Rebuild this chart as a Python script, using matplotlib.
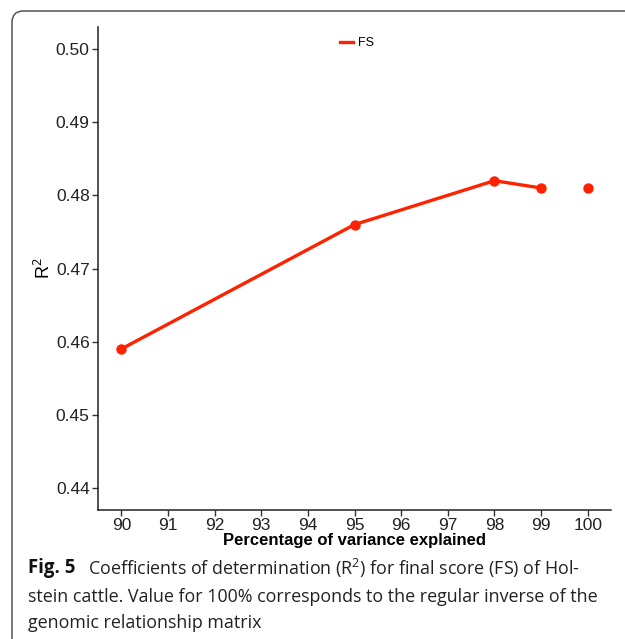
import matplotlib
matplotlib.use("Agg")
import matplotlib.pyplot as plt
from matplotlib.lines import Line2D
from matplotlib.patches import FancyBboxPatch

# Data.
pct_line = [90, 95, 98, 99]
r2_line = [0.459, 0.476, 0.482, 0.481]
pct_single = [100]
r2_single = [0.481]
xticks = [90, 91, 92, 93, 94, 95, 96, 97, 98, 99, 100]
yticks = [0.44, 0.45, 0.46, 0.47, 0.48, 0.49, 0.50]

red = "#ff2200"
plt.rcParams["font.family"] = ["Liberation Sans", "DejaVu Sans"]
plt.rcParams["mathtext.fontset"] = "custom"
plt.rcParams["mathtext.rm"] = "Open Sans"

fig = plt.figure(figsize=(6.25, 6.39), dpi=100)

# Rounded frame around the figure panel (runs off the right/bottom edge).
frame = FancyBboxPatch((12 / 625, -0.2), 1.2, 1 - 11 / 639 + 0.2,
                       boxstyle="round,pad=0,rounding_size=0.018",
                       transform=fig.transFigure, fill=False,
                       edgecolor="#555555", linewidth=1.1, clip_on=False)
fig.patches.append(frame)

ax = fig.add_axes([98 / 625, 1 - 510 / 639, (611 - 98) / 625, (510 - 27) / 639])
ax.plot(pct_line, r2_line, "-o", color=red, linewidth=2.4, markersize=6.5)
ax.plot(pct_single, r2_single, "o", color=red, markersize=6.5)

ax.set_xlim(89.5, 100.5)
ax.set_ylim(0.437, 0.503)
ax.set_xticks(xticks)
ax.set_yticks(yticks)
ax.set_yticklabels([f"{v:.2f}" for v in yticks])
ax.tick_params(labelsize=12.5, length=4, width=1, color="#333333",
               labelcolor="#222222", pad=2)
ax.tick_params(axis="x", pad=1.5)
for side in ["top", "right"]:
    ax.spines[side].set_visible(False)
for side in ["left", "bottom"]:
    ax.spines[side].set_linewidth(1.1)
    ax.spines[side].set_color("#222222")

ax.set_xlabel("Percentage of variance explained", fontsize=12,
              fontweight="bold", labelpad=0.5)
ax.set_ylabel("R$^2$", fontsize=13, labelpad=1)
ax.yaxis.label.set_fontfamily("Liberation Sans")

handle = Line2D([], [], color=red, linewidth=2.4)
ax.legend([handle], ["FS"], loc="upper center", bbox_to_anchor=(0.505, 1.0),
          frameon=False, handlelength=1.1, fontsize=9, handletextpad=0.4,
          borderaxespad=0.4)

# Caption.
cap_font = "Open Sans"
cap_size = 12.9
fig.text(28 / 625, 1 - 568 / 639, "Fig. 5", fontsize=cap_size + 0.5,
         fontweight="bold", family=cap_font, va="center", color="#111111")
fig.text(88 / 625, 1 - 568 / 639,
         "Coefficients of determination (R$^{2}$) for final score (FS) of Hol-",
         fontsize=cap_size, family=cap_font, va="center", color="#222222")
fig.text(28 / 625, 1 - 597 / 639,
         "stein cattle. Value for 100% corresponds to the regular inverse of the",
         fontsize=cap_size, family=cap_font, va="center", color="#222222")
fig.text(28 / 625, 1 - 623 / 639, "genomic relationship matrix",
         fontsize=cap_size, family=cap_font, va="center", color="#222222")

fig.savefig("out.png", dpi=100)
plt.close("all")
